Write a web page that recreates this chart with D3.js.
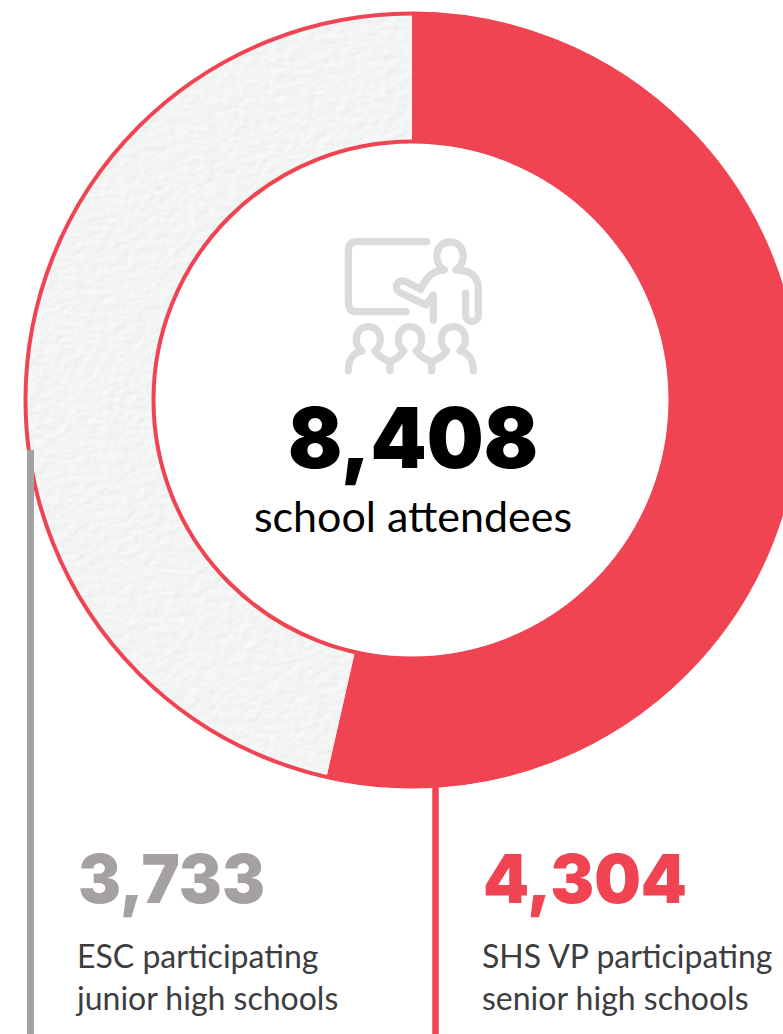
<!DOCTYPE html>
<html>
<head>
<meta charset="utf-8">
<script src="https://cdn.jsdelivr.net/npm/d3@7"></script>
<style>
  html, body { margin: 0; padding: 0; background: #fff; overflow: hidden; }
  svg { display: block; }
  text { font-kerning: normal; font-feature-settings: "liga" 1, "dlig" 0; }
</style>
</head>
<body>
<div id="chart"></div>
<script>
// Attendance figures
const segmentNames = ["SHS VP", "ESC"];
const segmentValues = [4304, 3733];
const segmentCounts = ["4,304", "3,733"];
const segmentLines = [
  ["SHS VP participating", "senior high schools"],
  ["ESC participating", "junior high schools"]
];
const totalLabel = "8,408";
const totalCaption = "school attendees";

const width = 783, height = 1034;
const cx = 412, cy = 400, outerR = 388, innerR = 257;
const red = "#f14452", grey = "#a5a1a1", paper = "#f3f4f4";

const svg = d3.select("#chart").append("svg")
  .attr("width", width).attr("height", height)
  .attr("viewBox", [0, 0, width, height]);

// Paper grain for the unfilled part of the ring
const filter = svg.append("defs").append("filter")
  .attr("id", "paperGrain")
  .attr("x", "0").attr("y", "0").attr("width", "100%").attr("height", "100%");
filter.append("feTurbulence")
  .attr("type", "fractalNoise").attr("baseFrequency", "0.1 0.14")
  .attr("numOctaves", 2).attr("seed", 7).attr("result", "noise");
const light = filter.append("feDiffuseLighting")
  .attr("in", "noise").attr("surfaceScale", 0.42).attr("diffuseConstant", 1.135)
  .attr("lighting-color", paper).attr("result", "lit");
light.append("feDistantLight").attr("azimuth", 45).attr("elevation", 62);
filter.append("feComposite")
  .attr("in", "lit").attr("in2", "SourceAlpha").attr("operator", "in");

const color = d3.scaleOrdinal().domain(segmentNames).range([red, paper]);

const pie = d3.pie().sort(null).value((d, i) => segmentValues[i]);
const arc = d3.arc().innerRadius(innerR).outerRadius(outerR);

const ring = svg.append("g").attr("transform", `translate(${cx},${cy})`);

ring.selectAll("path.segment")
  .data(pie(segmentNames))
  .join("path")
  .attr("class", "segment")
  .attr("d", arc)
  .attr("fill", d => color(d.data))
  .attr("filter", d => d.data === "ESC" ? "url(#paperGrain)" : null);

// Red rims on both edges of the ring
ring.selectAll("circle.rim")
  .data([outerR - 1.5, innerR + 1.5])
  .join("circle")
  .attr("class", "rim")
  .attr("r", d => d)
  .attr("fill", "none")
  .attr("stroke", red)
  .attr("stroke-width", 4);

// Leader lines dropping to the two callouts
const leaders = [
  { x: 30.5, y1: 450, stroke: grey, w: 7 },
  { x: 435.5, y1: 786, stroke: red, w: 6.5 }
];
svg.selectAll("line.leader")
  .data(leaders)
  .join("line")
  .attr("class", "leader")
  .attr("x1", d => d.x).attr("x2", d => d.x)
  .attr("y1", d => d.y1).attr("y2", height)
  .attr("stroke", d => d.stroke).attr("stroke-width", d => d.w);

// Classroom pictogram
const icon = svg.append("g")
  .attr("transform", "translate(320,220) scale(0.3333)")
  .attr("fill", "none").attr("stroke", "#dcdbdb")
  .attr("stroke-width", 22).attr("stroke-linecap", "round").attr("stroke-linejoin", "round");
[
  "M320,65 H112 Q85,65 85,92 V248 Q85,275 112,275 H258",
  "M372,150 C338,128 344,66 390,66 C436,66 442,128 408,150 C456,150 475,175 475,205 V285 C475,310 437,310 437,285 V220",
  "M372,150 C335,152 318,175 302,208 L255,184 C232,176 218,205 240,218 L318,255 L340,225 V300",
  "M125,393 C98,372 105,320 145,320 C185,320 192,372 165,393 C178,412 196,420 210,425 C224,420 238,412 251,393 C224,372 231,320 270,320 C309,320 316,372 289,393 C302,412 320,420 335,425 C349,420 367,412 380,393 C353,372 360,320 400,320 C440,320 447,372 420,393 C445,398 460,420 460,452",
  "M125,393 C100,398 85,420 85,452",
  "M210,425 V452",
  "M335,425 V452"
].forEach(d => icon.append("path").attr("d", d));

// Centre total
svg.append("text")
  .attr("x", 413).attr("y", 468)
  .attr("text-anchor", "middle")
  .attr("font-family", "Inter, Lato, sans-serif")
  .attr("font-weight", 900).attr("font-size", 84)
  .attr("textLength", 250).attr("lengthAdjust", "spacingAndGlyphs")
  .attr("fill", "#000")
  .text(totalLabel);

svg.append("text")
  .attr("x", 413).attr("y", 532)
  .attr("text-anchor", "middle")
  .attr("font-family", "Lato, sans-serif")
  .attr("font-size", 43)
  .attr("fill", "#000")
  .text(totalCaption);

// Callouts
const callouts = [
  { i: 1, x: 78, w: 187, fill: grey },
  { i: 0, x: 483, w: 204, fill: red }
];
callouts.forEach(c => {
  svg.append("text")
    .attr("x", c.x).attr("y", 903)
    .attr("font-family", "Inter, Lato, sans-serif")
    .attr("font-weight", 900).attr("font-size", 68)
    .attr("textLength", c.w).attr("lengthAdjust", "spacingAndGlyphs")
    .attr("fill", c.fill)
    .text(segmentCounts[c.i]);
  segmentLines[c.i].forEach((line, j) => {
    svg.append("text")
      .attr("x", c.x - 1).attr("y", 968 + j * 42)
      .attr("font-family", "Lato, sans-serif")
      .attr("font-size", 32)
      .attr("fill", "#3d3d3f")
      .text(line);
  });
});
</script>
</body>
</html>
